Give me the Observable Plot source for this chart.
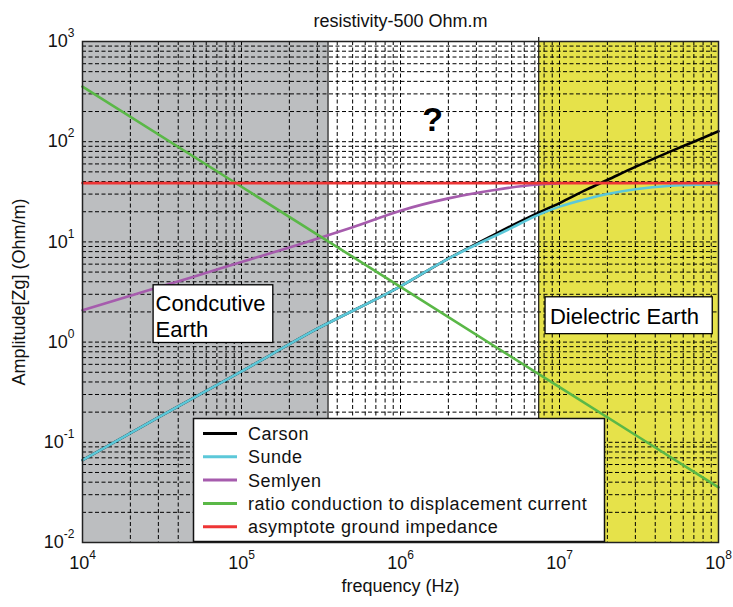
<!DOCTYPE html>
<html><head><meta charset="utf-8">
<script src="https://cdn.jsdelivr.net/npm/d3@7"></script>
<script src="https://cdn.jsdelivr.net/npm/@observablehq/plot@0.6"></script>
<style>
body{margin:0;background:#fff;}
#chart svg{font-family:"Liberation Sans",Arial,sans-serif;}
</style></head><body><div id="chart"></div>
<script>
const title = "resistivity-500 Ohm.m";
const xLabel = "frequency (Hz)";
const yLabel = "Amplitude[Zg] (Ohm/m)";
const xDomain = [1e4, 1e8];
const yDomain = [1e-2, 1e3];
const xTicks = [1e4, 1e5, 1e6, 1e7, 1e8];
const yTicks = [1e-2, 1e-1, 1e0, 1e1, 1e2, 1e3];

const seriesNames = ["Carson", "Sunde", "Semlyen", "ratio conduction to displacement current", "asymptote ground impedance"];
const seriesColors = ["#000000", "#5cc8d9", "#a65cad", "#5ab847", "#ee3535"];

const freqCarson = [1e4, 3e4, 1e5, 3e5, 1e6, 2e6, 4e6, 5e6, 7e6, 1e7, 1.5e7, 2e7, 3e7, 5e7, 7e7, 1e8];
const ampCarson  = [0.0665, 0.177, 0.51, 1.36, 3.6, 6.8, 12.1, 14.5, 18.8, 24.4, 33.6, 41.5, 56, 80, 100, 127];
const freqSunde = [1e4, 3e4, 1e5, 3e5, 1e6, 2e6, 5e6, 7e6, 1e7, 1.5e7, 2e7, 3e7, 5e7, 1e8];
const ampSunde  = [0.0665, 0.177, 0.51, 1.36, 3.6, 6.8, 13.8, 18.0, 22.5, 27, 30, 33.5, 36.3, 37.6];
const freqSemlyen = [1e4, 2e4, 5e4, 1e5, 2e5, 3.2e5, 5e5, 1e6, 2e6, 4e6, 7e6, 1e7];
const ampSemlyen  = [2.08, 2.9, 4.5, 6.3, 8.8, 11.1, 14.0, 20.5, 27.2, 33.2, 37.2, 38.3];
const freqRatio = [1e4, 1e5, 1e6, 1e7, 1e8];
const ampRatio  = [355, 35.5, 3.55, 0.355, 0.0355];
const freqAsym = [1e4, 1e8];
const ampAsym  = [38.6, 38.6];

const regionNames = ["conductive", "dielectric"];
const regionStart = [1e4, 7.4e6];
const regionEnd   = [3.5e5, 1e8];
const regionColors = ["#bcbec0", "#e6e24a"];

const annoText = ["Condcutive\nEarth", "Dielectric Earth"];
const annoX = [2.88e4, 8.7e6];
const annoY = [3.17, 1.77];
const boxX1 = [2.8e4, 8.17e6];
const boxX2 = [1.585e5, 9.2e7];
const boxY1 = [0.98, 1.2];
const boxY2 = [3.69, 2.8];
const qText = "?";
const qX = 1.59e6, qY = 163;

const freqs = [freqCarson, freqSunde, freqSemlyen, freqRatio, freqAsym];
const amps = [ampCarson, ampSunde, ampSemlyen, ampRatio, ampAsym];
const seriesData = seriesNames.map((n, i) => freqs[i].map((f, j) => ({series: n, f, v: amps[i][j]})));

const regions = regionNames.map((n, i) => ({n, x1: regionStart[i], x2: regionEnd[i], y1: yDomain[0], y2: yDomain[1], c: regionColors[i]}));
const boxes = boxX1.map((d, i) => ({x1: boxX1[i], x2: boxX2[i], y1: boxY1[i], y2: boxY2[i]}));

const xGrid = d3.scaleLog().domain(xDomain).ticks();
const yGrid = d3.scaleLog().domain(yDomain).ticks();
const expFmt = d => "10^" + Math.round(Math.log10(d));
const dash = "4,2.5";

const plot = Plot.plot({
  width: 733, height: 607,
  marginLeft: 82, marginRight: 15, marginTop: 41, marginBottom: 65,
  x: {type: "log", domain: xDomain},
  y: {type: "log", domain: yDomain},
  style: {fontFamily: "'Liberation Sans', Arial, sans-serif", fontSize: "18px", background: "white", color: "#111"},
  marks: [
    Plot.rect(regions, {x1: "x1", x2: "x2", y1: "y1", y2: "y2", fill: "c"}),
    Plot.ruleX(xGrid, {stroke: "#000", strokeWidth: 1, strokeDasharray: dash}),
    Plot.ruleY(yGrid, {stroke: "#000", strokeWidth: 1, strokeDasharray: dash}),
    Plot.ruleX([regionEnd[0]], {stroke: "#222", strokeWidth: 1.3}),
    Plot.ruleX([regionStart[1]], {stroke: "#222", strokeWidth: 1.3, insetTop: -4}),
    ...seriesData.map((d, i) => Plot.line(d, {x: "f", y: "v", stroke: seriesColors[i], strokeWidth: 2.6, curve: "monotone-x"})),
    Plot.rect(boxes, {x1: "x1", x2: "x2", y1: "y1", y2: "y2", fill: "white", stroke: "#000", strokeWidth: 1.3}),
    Plot.text([annoText[0]], {x: annoX[0], y: annoY[0], textAnchor: "start", lineAnchor: "top", fontSize: 22, lineHeight: 1.21, fill: "#000"}),
    Plot.text([annoText[1]], {x: annoX[1], y: annoY[1], textAnchor: "start", fontSize: 22, fill: "#000"}),
    Plot.text([qText], {x: qX, y: qY, fontSize: 34, fontWeight: "bold", fill: "#000"}),
    Plot.frame({stroke: "#222", strokeWidth: 1.5}),
    Plot.axisX(xTicks, {tickFormat: expFmt, tickSize: 0, tickPadding: 14, label: null, fontSize: 18}),
    Plot.axisY(yTicks, {tickFormat: expFmt, tickSize: 0, tickPadding: 8, label: null, fontSize: 18}),
    Plot.text([title], {frameAnchor: "top", dy: -27, fontSize: 18, fill: "#111"}),
    Plot.text([xLabel], {frameAnchor: "bottom", dy: 49, fontSize: 18, fill: "#111"}),
    Plot.text([yLabel], {frameAnchor: "left", dx: -63, rotate: -90, textAnchor: "middle", fontSize: 18, fill: "#111"})
  ]
});

const svg = d3.select(plot);
svg.selectAll('g[aria-label="x-axis tick label"] text, g[aria-label="y-axis tick label"] text').each(function () {
  const m = this.textContent.match(/^10\^(.+)$/);
  if (m) {
    const el = d3.select(this);
    el.text("10");
    el.append("tspan").attr("dy", "-10").attr("font-size", "12px").text(m[1]);
  }
});

// legend
const lg = svg.append("g").attr("font-size", 18).attr("fill", "#111").attr("text-anchor", "start");
lg.append("rect").attr("x", 193.5).attr("y", 418.5).attr("width", 411).attr("height", 123)
  .attr("fill", "white").attr("stroke", "#111").attr("stroke-width", 1.5);
seriesNames.forEach((n, i) => {
  const cy = 433.5 + i * 23.3;
  lg.append("line").attr("x1", 203).attr("x2", 237).attr("y1", cy).attr("y2", cy)
    .attr("stroke", seriesColors[i]).attr("stroke-width", 3);
  lg.append("text").attr("x", 248).attr("y", cy).attr("dy", "0.36em").attr("text-anchor", "start")
    .attr("letter-spacing", "0.5px").text(n);
});

document.getElementById("chart").appendChild(plot);
</script></body></html>
